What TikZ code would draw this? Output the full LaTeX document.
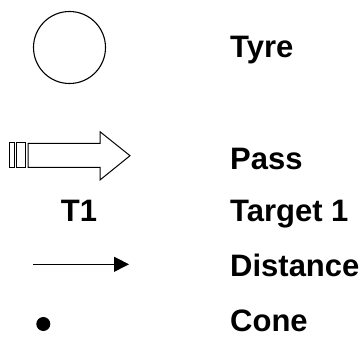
\documentclass[tikz,border=0pt]{standalone}
\usepackage{fontspec}
\setmainfont{Liberation Sans}
\usetikzlibrary{arrows.meta}
\begin{document}
\begin{tikzpicture}[x=1pt,y=-1pt,
  label/.style={anchor=base west,inner sep=0pt,font=\fontsize{31}{34}\selectfont\bfseries},
  symbol/.style={draw=black,line width=1.1pt}]
\useasboundingbox (0,0) rectangle (362,337);
% Tyre
\node[symbol,circle,minimum size=72pt,inner sep=0pt] (tyre) at (69.5,47.5) {};
\node[label] (tyretext) at (230,57.7) {Tyre};
% Pass
\draw[symbol,line width=1pt] (9.3,142.7) rectangle (14,167.7);
\draw[symbol,line width=1pt] (16.3,142.7) rectangle (25.7,167.7);
\draw[symbol,line width=1pt,line join=miter] (28,143.3) -- (100,143.3) -- (100,131.7) -- (130,155.7) -- (100,180) -- (100,167.3) -- (28,167.3) -- cycle;
\node[label] (passtext) at (230,169) {Pass};
% Target 1
\node[label,anchor=base] (t1) at (79,222) {T1};
\node[label] (targettext) at (230,222) {Target 1};
% Distance
\coordinate (d1) at (33,264.3);
\coordinate (d2) at (129,264.3);
\draw[line width=1pt,-{Triangle[length=15pt,width=15pt]}] (d1) -- (d2);
\node[label] (disttext) at (230,276) {Distance};
% Cone
\fill (43.3,324) circle (7);
\node[label] (conetext) at (230,331) {Cone};
\end{tikzpicture}
\end{document}
